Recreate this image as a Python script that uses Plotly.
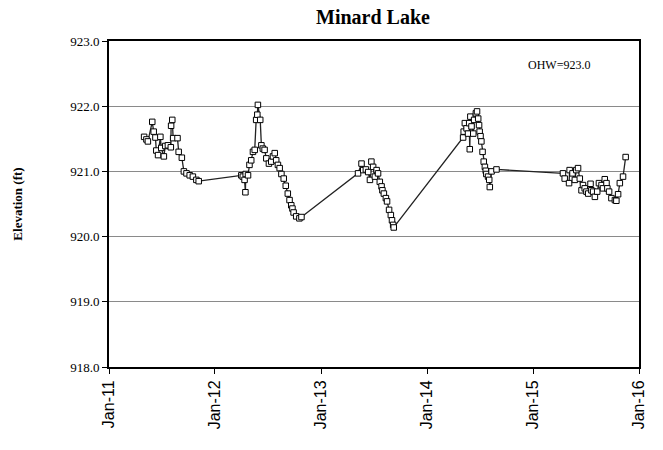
import plotly.graph_objects as go

# --- data ---
dates_2011 = ["2011-05-02", "2011-05-10", "2011-05-15", "2011-05-30", "2011-06-04", "2011-06-10",
              "2011-06-13", "2011-06-19", "2011-06-27", "2011-06-30", "2011-07-09", "2011-07-14",
              "2011-07-23", "2011-08-02", "2011-08-03", "2011-08-07", "2011-08-10", "2011-08-25",
              "2011-08-29", "2011-09-09", "2011-09-16", "2011-09-25", "2011-10-06", "2011-10-17",
              "2011-10-29", "2011-11-06"]
elev_2011 = [921.53, 921.49, 921.46, 921.76, 921.61, 921.52, 921.32, 921.25, 921.53, 921.36,
             921.23, 921.39, 921.40, 921.37, 921.70, 921.79, 921.51, 921.51, 921.30, 921.21,
             921.00, 920.97, 920.94, 920.92, 920.87, 920.85]

dates_2012 = ["2012-04-01", "2012-04-06", "2012-04-12", "2012-04-15", "2012-04-16", "2012-04-24",
              "2012-04-29", "2012-05-05", "2012-05-11", "2012-05-17", "2012-05-22", "2012-05-26",
              "2012-05-28", "2012-06-05", "2012-06-09", "2012-06-14", "2012-06-20", "2012-06-26",
              "2012-07-05", "2012-07-13", "2012-07-19", "2012-07-25", "2012-07-30", "2012-08-05",
              "2012-08-11", "2012-08-17", "2012-08-25", "2012-09-01", "2012-09-08", "2012-09-14",
              "2012-09-20", "2012-09-24", "2012-09-28", "2012-10-07", "2012-10-18", "2012-10-25"]
elev_2012 = [920.94, 920.92, 920.87, 920.68, 920.96, 920.94, 921.10, 921.17, 921.30, 921.33,
             921.79, 921.87, 922.02, 921.79, 921.40, 921.35, 921.33, 921.20, 921.12, 921.15,
             921.23, 921.28, 921.17, 921.10, 921.05, 920.96, 920.89, 920.78, 920.66, 920.56,
             920.48, 920.43, 920.37, 920.31, 920.28, 920.30]

dates_2013 = ["2013-05-08", "2013-05-20", "2013-05-26", "2013-06-04", "2013-06-12", "2013-06-18",
              "2013-06-23", "2013-06-29", "2013-07-05", "2013-07-11", "2013-07-16", "2013-07-22",
              "2013-07-28", "2013-07-31", "2013-08-05", "2013-08-12", "2013-08-16", "2013-08-23",
              "2013-08-29", "2013-09-02", "2013-09-06", "2013-09-08"]
elev_2013 = [920.97, 921.12, 921.02, 921.03, 920.99, 920.87, 921.15, 921.07, 920.92, 921.02,
             920.97, 920.84, 920.77, 920.71, 920.66, 920.59, 920.54, 920.41, 920.33, 920.25,
             920.18, 920.14]

dates_2014 = ["2014-05-05", "2014-05-07", "2014-05-11", "2014-05-17", "2014-05-22", "2014-05-26",
              "2014-05-28", "2014-05-30", "2014-06-03", "2014-06-09", "2014-06-12", "2014-06-18",
              "2014-06-22", "2014-06-26", "2014-06-29", "2014-07-01", "2014-07-04", "2014-07-07",
              "2014-07-11", "2014-07-15", "2014-07-19", "2014-07-22", "2014-07-24", "2014-07-30",
              "2014-08-03", "2014-08-05", "2014-08-11", "2014-08-28"]
elev_2014 = [921.52, 921.61, 921.74, 921.66, 921.58, 921.74, 921.34, 921.84, 921.69, 921.58,
             921.79, 921.89, 921.92, 921.81, 921.71, 921.61, 921.54, 921.46, 921.30, 921.15,
             921.07, 921.01, 920.96, 920.92, 920.87, 920.76, 921.00, 921.03]

dates_2015 = ["2015-04-14", "2015-04-20", "2015-05-05", "2015-05-07", "2015-05-17", "2015-05-25",
              "2015-05-30", "2015-06-05", "2015-06-11", "2015-06-17", "2015-06-22", "2015-06-28",
              "2015-07-04", "2015-07-10", "2015-07-18", "2015-07-21", "2015-07-27", "2015-08-02",
              "2015-08-10", "2015-08-16", "2015-08-25", "2015-08-30", "2015-09-05", "2015-09-11",
              "2015-09-14", "2015-09-20", "2015-09-28", "2015-10-10", "2015-10-15", "2015-10-21",
              "2015-10-27", "2015-11-07", "2015-11-16"]
elev_2015 = [920.97, 920.89, 920.82, 921.02, 920.97, 920.87, 921.02, 921.05, 920.89, 920.71,
             920.79, 920.74, 920.69, 920.66, 920.81, 920.71, 920.69, 920.61, 920.69, 920.82,
             920.79, 920.74, 920.88, 920.82, 920.74, 920.69, 920.59, 920.56, 920.55, 920.65,
             920.82, 920.92, 921.22]

y_ticks = [918.0, 919.0, 920.0, 921.0, 922.0, 923.0]
x_ticks = ["2011-01-01", "2012-01-01", "2013-01-01", "2014-01-01", "2015-01-01", "2016-01-01"]
x_tick_labels = ["Jan-11", "Jan-12", "Jan-13", "Jan-14", "Jan-15", "Jan-16"]
title_text = "Minard Lake"
y_title = "Elevation (ft)"
ohw_text = "OHW=923.0"

dates = dates_2011 + dates_2012 + dates_2013 + dates_2014 + dates_2015
elev = elev_2011 + elev_2012 + elev_2013 + elev_2014 + elev_2015

fig = go.Figure()
fig.add_trace(go.Scatter(
    x=dates, y=elev, mode="lines+markers",
    line=dict(color="#222222", width=1.3),
    marker=dict(symbol="square", size=5.5, color="white",
                line=dict(color="black", width=1)),
    showlegend=False,
))

fig.add_annotation(x="2015-04-01", y=922.63, text=ohw_text, showarrow=False,
                   font=dict(family="Liberation Serif", size=12, color="black"))

fig.update_layout(
    width=663, height=450,
    margin=dict(l=109, r=24, t=41, b=83),
    paper_bgcolor="white", plot_bgcolor="white",
    title=dict(text="<b>" + title_text + "</b>", x=373 / 663, xanchor="center",
               y=1 - 17 / 450, yanchor="middle",
               font=dict(family="Liberation Serif", size=20, color="black")),
    xaxis=dict(
        type="date", range=["2011-01-01", "2016-01-01"],
        tickvals=x_ticks, ticktext=x_tick_labels, tickangle=-90,
        tickfont=dict(family="Liberation Sans", size=16, color="black"),
        ticks="outside", ticklen=5, tickcolor="black",
        showgrid=False, showline=True, linecolor="black", linewidth=2, mirror=True,
        zeroline=False,
    ),
    yaxis=dict(
        range=[918, 923], tickvals=y_ticks, tickformat=".1f",
        tickfont=dict(family="Liberation Serif", size=13, color="black"),
        ticks="outside", ticklen=5, tickcolor="black",
        showgrid=True, gridcolor="#8a8a8a", gridwidth=1,
        showline=True, linecolor="black", linewidth=2, mirror=True,
        zeroline=False,
        title=dict(text="<b>" + y_title + "</b>", standoff=45,
                   font=dict(family="Liberation Serif", size=13, color="black")),
    ),
)

fig.write_html("out.html", config={"displayModeBar": False},
               post_script="document.body.style.margin='0';")
